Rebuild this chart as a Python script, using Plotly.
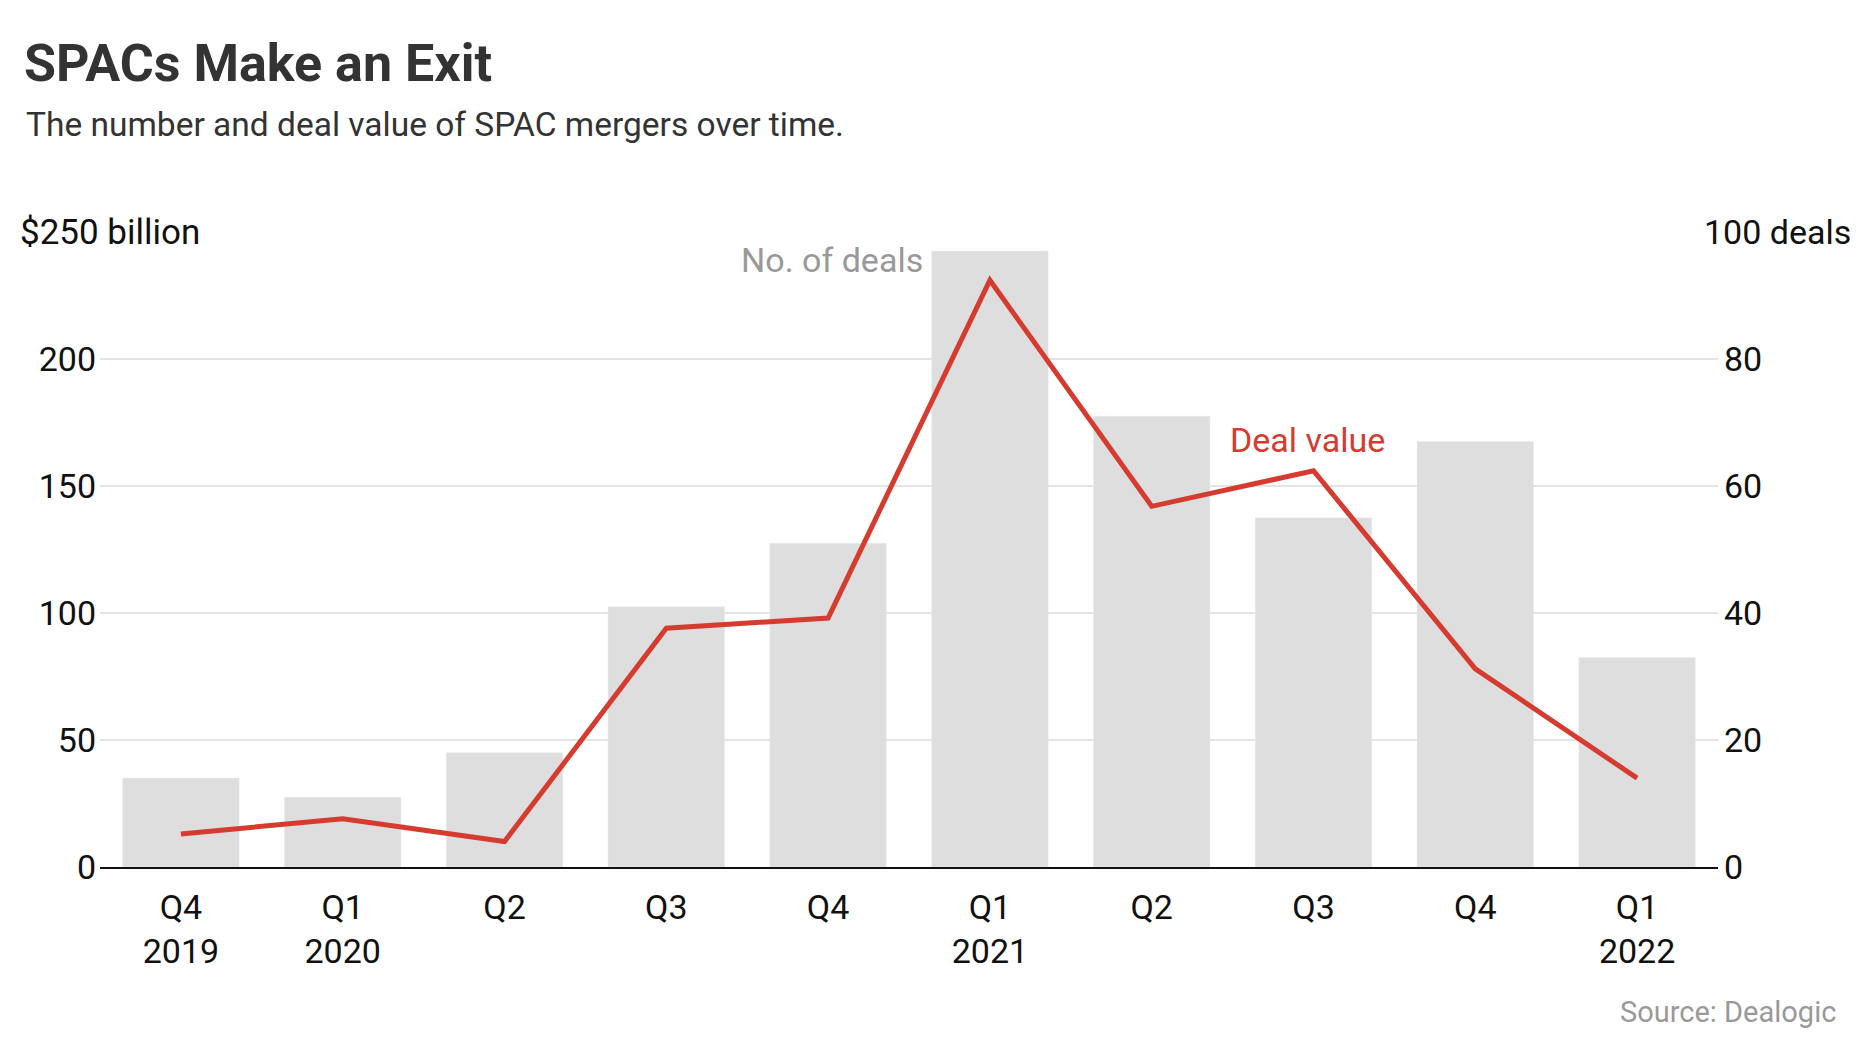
import plotly.graph_objects as go

# --- data
quarters = ["Q4 2019", "Q1 2020", "Q2 2020", "Q3 2020", "Q4 2020",
            "Q1 2021", "Q2 2021", "Q3 2021", "Q4 2021", "Q1 2022"]
tick_labels = ["Q4<br>2019", "Q1<br>2020", "Q2", "Q3", "Q4",
               "Q1<br>2021", "Q2", "Q3", "Q4", "Q1<br>2022"]
deal_counts = [14, 11, 18, 41, 51, 97, 71, 55, 67, 33]
deal_values = [13, 19, 10, 94, 98, 231, 142, 156, 78, 35]
value_ticks = [0, 50, 100, 150, 200]
count_ticks = [0, 20, 40, 60, 80]

# page is drawn with an 8px body margin, so the figure starts at (8, 8)
OFF = 8
W, H = 1860 - OFF, 1046 - OFF
L, R, T, B = 100 - OFF, 142, 232 - OFF, 179
FONT = "Roboto, Noto Sans, sans-serif"
BAR = "#dedede"
RED = "#d63b2f"
GREY = "#999999"


def px_x(x):
    return (x - OFF - L) / (W - L - R)


def px_y(y):
    return (H - B - (y - OFF)) / (H - T - B)


fig = go.Figure()
fig.add_trace(go.Bar(x=quarters, y=deal_counts, marker_color=BAR, yaxis="y",
                     hoverinfo="x+y", showlegend=False))
fig.add_trace(go.Scatter(x=quarters, y=deal_values, mode="lines", yaxis="y2",
                         line=dict(color=RED, width=5), showlegend=False))

fig.update_layout(
    width=W, height=H,
    margin=dict(l=L, r=R, t=T, b=B),
    paper_bgcolor="white", plot_bgcolor="white",
    font=dict(family=FONT, size=34, color="#111111"),
    bargap=0.28,
    title=dict(text="<b>SPACs Make an Exit</b>", x=(24 - OFF) / W, xanchor="left",
               y=1 - (63 - OFF) / H, yanchor="middle",
               font=dict(family=FONT, size=52, color="#333333")),
    xaxis=dict(type="category", categoryorder="array", categoryarray=quarters,
               tickvals=quarters, ticktext=tick_labels, range=[-0.5, 9.5],
               showgrid=False, showline=True, linecolor="#111111", linewidth=2,
               ticks="", ticklabelstandoff=9, tickfont=dict(size=34)),
    yaxis=dict(side="right", range=[0, 100], tickvals=count_ticks + [100],
               ticktext=[str(v) for v in count_ticks] + [""],
               showgrid=True, gridcolor="#e4e4e4", gridwidth=1.5,
               zeroline=False, ticks="", ticklabelstandoff=5, fixedrange=True),
    yaxis2=dict(side="left", overlaying="y", range=[0, 250],
                tickvals=value_ticks + [250],
                ticktext=[str(v) for v in value_ticks] + [""],
                showgrid=False, zeroline=False, ticks="", ticklabelstandoff=3),
)

annotations = [
    dict(text="The number and deal value of SPAC mergers over time.",
         x=px_x(24), y=px_y(125), xanchor="left", yanchor="middle",
         font=dict(size=33.5, color="#333333")),
    dict(text="$250 billion", x=px_x(12), y=px_y(232), xanchor="left",
         yanchor="middle", bgcolor="white", borderpad=7,
         font=dict(size=35, color="#111111")),
    dict(text="100 deals", x=px_x(1695), y=px_y(232), xanchor="left",
         yanchor="middle", bgcolor="white", borderpad=8,
         font=dict(size=34, color="#111111")),
    dict(text="Source: Dealogic", x=px_x(1838), y=px_y(1012), xanchor="right",
         yanchor="middle", font=dict(size=29, color=GREY)),
]
for a in annotations:
    a.update(xref="paper", yref="paper", showarrow=False)

# series labels placed on the data axes
annotations.append(dict(text="No. of deals", x=4.6, y=239, xref="x", yref="y2",
                        xanchor="right", yanchor="middle", showarrow=False,
                        font=dict(size=34, color=GREY)))
annotations.append(dict(text="Deal value", x=6.96, y=168, xref="x", yref="y2",
                        xanchor="center", yanchor="middle", showarrow=False,
                        font=dict(size=34, color=RED)))
fig.update_layout(annotations=annotations)

fig.write_html("out.html", config={"displayModeBar": False})
